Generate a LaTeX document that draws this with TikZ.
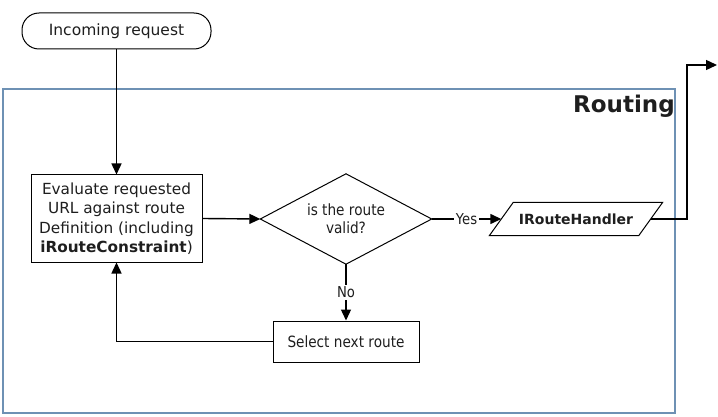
\documentclass[tikz,border=0pt]{standalone}
\usepackage{fontspec}
\setmainfont{DejaVu Sans}
\newfontfamily\narrowfont{DejaVu Sans}[FakeStretch=0.88]
\usetikzlibrary{arrows.meta}
\definecolor{framecol}{RGB}{110,145,180}
\definecolor{inkcol}{RGB}{30,30,30}
\begin{document}
\begin{tikzpicture}[x=1pt,y=-1pt,
  every node/.style={text=inkcol},
  flow/.style={draw=black,line width=1.4pt,-{Triangle[length=11pt,width=10pt]}},
  startbox/.style={draw=black,line width=1pt,rounded corners=17pt,minimum width=189pt,minimum height=36pt,inner sep=0pt,font=\fontsize{15.5}{18}\selectfont},
  procbox/.style={draw=black,line width=1pt,inner sep=0pt,align=center,font=\fontsize{15.3}{19.5}\selectfont},
  decision/.style={inner sep=0pt,minimum width=171pt,minimum height=90pt,align=center,font=\narrowfont\fontsize{15.5}{18}\selectfont},
  iobox/.style={inner sep=0pt,minimum width=149pt,minimum height=33pt,font=\bfseries\fontsize{14}{16}\selectfont},
  edgelabel/.style={fill=white,inner sep=2pt,font=\narrowfont\fontsize{15}{17}\selectfont}
]
\useasboundingbox (0,0) rectangle (718,417);
\fill[white] (0,0) rectangle (718,417);

% frame of the routing stage
\draw[framecol,line width=1.2pt] (3,89) rectangle (675,413);
\node[anchor=base east,inner sep=0pt,font=\bfseries\fontsize{23}{26}\selectfont] (title) at (675,113) {Routing};

% nodes
\node[startbox] (start) at (116.5,31) {Incoming request};
\node[procbox,minimum width=171pt,minimum height=87pt] (eval) at (116.5,218.5)
  {Evaluate requested\\URL against route\\Definition (including\\\textbf{iRouteConstraint})};
\node[decision] (valid) at (346,219) {is the route\\valid?};
\draw[black,line width=1pt] (valid.west) -- (valid.north) -- (valid.east) -- (valid.south) -- cycle;
\node[iobox] (handler) at (576,219) {IRouteHandler};
\draw[black,line width=1pt]
  ([xshift=-12pt]handler.south west) -- ([xshift=12pt]handler.north west)
  -- ([xshift=12pt]handler.north east) -- ([xshift=-12pt]handler.south east) -- cycle;
\node[procbox,minimum width=146pt,minimum height=41pt,font=\narrowfont\fontsize{15.5}{18}\selectfont] (select) at (346,341.5) {Select next route};
\coordinate (bend) at (687,65);
\coordinate (out) at (717,65);

% connectors
\draw[flow] (start.south) -- (eval.north);
\draw[flow] (eval.east) -- (valid.west);
\draw[flow] (valid.east) -- node[edgelabel] {Yes} (handler.west);
\draw[flow] (valid.south) -- node[edgelabel] {No} (select.north);
\draw[flow] (select.west) -| (eval.south);
\draw[flow] (handler.east) -| (bend) -- (out);
\end{tikzpicture}
\end{document}
